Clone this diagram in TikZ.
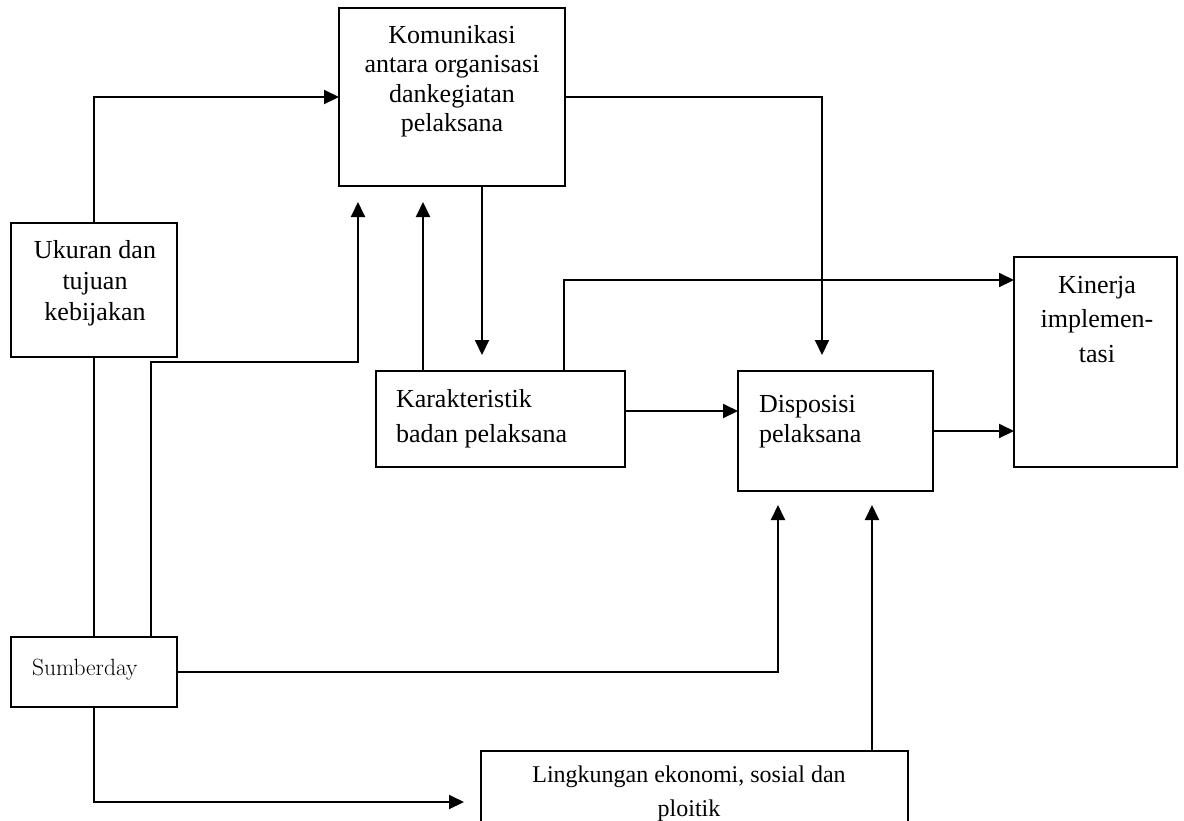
\documentclass[tikz,border=0pt]{standalone}
\usepackage{fontspec}
\newfontfamily\tnr{Liberation Serif}
\usetikzlibrary{arrows.meta}
% serif text at a given size and line pitch
\newcommand\tsz[2]{\tnr\fontsize{#1}{#2}\selectfont}
\newcommand\stack[2]{\begin{tabular}[t]{@{}#1@{}}#2\end{tabular}}
\begin{document}
\begin{tikzpicture}[x=1pt,y=-1pt,line width=2pt,
  box/.style={draw,rectangle,inner sep=0pt,outer sep=0pt},
  lbl/.style={inner sep=0pt,outer sep=0pt,anchor=base},
  lblw/.style={inner sep=0pt,outer sep=0pt,anchor=base west},
  arr/.style={-{Triangle[length=15pt,width=14pt]}}]
\useasboundingbox (0,0) rectangle (1184,820);
\clip (0,0) rectangle (1184,820);

% boxes
\node[box,minimum width=226,minimum height=178] (kom) at (452,97) {};
\node[box,minimum width=166,minimum height=134] (uk)  at (94,290) {};
\node[box,minimum width=163,minimum height=210] (kin) at (1095.5,362) {};
\node[box,minimum width=249,minimum height=96]  (kar) at (500.5,419) {};
\node[box,minimum width=195,minimum height=120] (dis) at (835.5,431) {};
\node[box,minimum width=166,minimum height=70]  (sum) at (94,672) {};
\node[box,minimum width=427,minimum height=100] (lin) at (694.5,801) {};

% texts
\node[lbl,font={\tsz{26}{29.5}}] (komt) at (452,43)
  {\stack{c}{Komunikasi\\antara organisasi\\dankegiatan\\pelaksana}};
\node[lbl,font={\tsz{26}{31}}] (ukt) at (95,258)
  {\stack{c}{Ukuran dan\\tujuan\\kebijakan}};
\node[lbl,font={\tsz{26}{34.5}}] (kint) at (1097,293)
  {\stack{c}{Kinerja\\implemen-\\tasi}};
\node[lblw,font={\tsz{26}{35}}] (kart) at (396,407)
  {\stack{l}{Karakteristik\\badan pelaksana}};
\node[lblw,font={\tsz{26}{30}}] (dist) at (759,412)
  {\stack{l}{Disposisi\\pelaksana}};
\node[lbl,font={\tsz{24}{34}}] (lint) at (689,782)
  {\stack{c}{Lingkungan ekonomi, sosial dan\\ploitik}};
\node[lblw,font={\fontsize{23.5}{28}\selectfont}] (sumt) at (32,675) {Sumberday};

% free ends of the arrows
\coordinate (tkd)  at (822,355);
\coordinate (tkk)  at (482,355);
\coordinate (tkr)  at (423,202);
\coordinate (tsk)  at (358,202);
\coordinate (tki)  at (1014,280);
\coordinate (tsd)  at (778,505);
\coordinate (tld)  at (872,505);
\coordinate (tsl)  at (464,802);

% connectors
\draw[arr] (uk.north) |- (kom.west);
\draw[arr] (kom.east) -| (tkd);
\draw[arr] (kom.south -| tkk) -- (tkk);
\draw[arr] (kar.north -| tkr) -- (tkr);
\draw[arr] (kar.north -| 564,0) |- (tki);
\draw[arr] (kar.east |- 0,411) -- (dis.west |- 0,411);
\draw[arr] (dis.east) -- (dis.east -| kin.west);
\draw (uk.south) -- (sum.north);
\draw[arr] (sum.north -| 151,0) |- (tsk |- 0,362) -- (tsk);
\draw[arr] (sum.east) -| (tsd);
\draw[arr] (lin.north -| tld) -- (tld);
\draw[arr] (sum.south) |- (tsl);
\end{tikzpicture}
\end{document}
